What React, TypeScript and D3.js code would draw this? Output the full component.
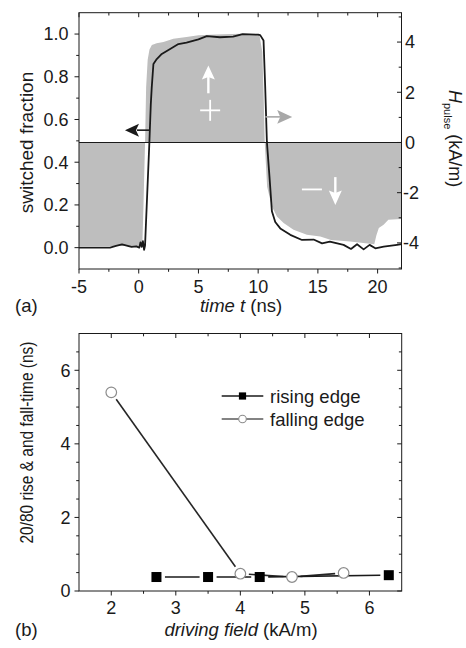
import React from "react";
import * as d3 from "d3";

const W = 466;
const H = 648;
const FONT = "'Liberation Sans', Arial, Helvetica, sans-serif";

// ---------- Panel (a): switched fraction and pulse field vs time ----------
const tFraction = [
  -5, -2.4, -1.9, -1.4, -1.0, -0.6, -0.2, 0.05, 0.15, 0.25, 0.35, 0.45, 0.53,
  0.89, 1.01, 1.09, 1.23, 1.51, 1.93, 2.63, 3.32, 4.0, 5.0, 5.7, 6.8, 7.9, 8.7,
  10.0, 10.17, 10.45, 10.59, 10.73, 10.95, 11.15, 11.43, 11.85, 12.69, 13.67,
  14.64, 15.35, 16.0, 17.15, 17.77, 18.28, 18.83, 19.33, 19.81, 20.51, 21.63, 22,
];
const fraction = [
  0.0, 0.0, 0.008, 0.015, 0.01, 0.004, 0.006, 0.0, 0.025, 0.004, 0.03, -0.01, 0.01,
  0.49, 0.67, 0.75, 0.86, 0.883, 0.907, 0.93, 0.953, 0.96, 0.975, 0.99, 0.985, 0.988, 1.0,
  0.997, 0.995, 0.97, 0.75, 0.495, 0.33, 0.17, 0.12, 0.09, 0.06, 0.036,
  0.038, 0.02, 0.028, 0.013, -0.006, 0.016, -0.008, 0.013, -0.003, 0.005, 0.013, 0.016,
];

const tPulse = [
  -5, 0.3, 0.4, 0.53, 0.62, 0.75, 0.9, 1.1, 1.5, 2.07, 2.9, 4.0, 5.0, 6.5, 8.5,
  10.1, 10.35, 10.45, 10.55, 10.75, 11.15, 11.57, 12.13, 12.96, 14.08, 15.2, 16.1,
  17.7, 18.8, 19.72, 19.9, 20.1, 20.5, 20.9, 21.6, 22,
];
const hPulse = [
  -4.12, -4.12, -2.5, 0, 2.2, 3.3, 3.7, 3.88, 3.95, 4.0, 4.13, 4.2, 4.27, 4.3, 4.33,
  4.3, 3.6, 2.0, 0, -1.76, -2.55, -2.95, -3.21, -3.48, -3.68, -3.75, -3.88,
  -3.94, -4.0, -4.05, -3.7, -3.41, -3.28, -3.08, -3.06, -3.05,
];

const timeTicks = [-5, 0, 5, 10, 15, 20];
const timeMinor = [-2.5, 2.5, 7.5, 12.5, 17.5];
const fracTicks = [0, 0.2, 0.4, 0.6, 0.8, 1.0];
const fracMinor = [0.1, 0.3, 0.5, 0.7, 0.9];
const fieldTicks = [-4, -2, 0, 2, 4];
const fieldMinor = [-5, -3, -1, 1, 3, 5];

// ---------- Panel (b): 20/80 rise and fall times vs driving field ----------
const risingField = [2.7, 3.5, 4.3, 6.3];
const risingTime = [0.38, 0.38, 0.38, 0.43];
const fallingField = [2.0, 4.0, 4.8, 5.6];
const fallingTime = [5.4, 0.47, 0.38, 0.49];

const driveTicks = [2, 3, 4, 5, 6];
const driveMinor = [2.5, 3.5, 4.5, 5.5];
const durTicks = [0, 2, 4, 6];
const durMinor = [0.5, 1, 1.5, 2.5, 3, 3.5, 4.5, 5, 5.5, 6.5];

// ---------- geometry ----------
const PA = { left: 79, right: 401.5, top: 12.7, bottom: 269 };
const PB = { left: 79, right: 401.7, top: 333.5, bottom: 591 };

const xA = d3.scaleLinear().domain([-5, 22]).range([PA.left, PA.right]);
const yA = d3.scaleLinear().domain([-0.1, 1.1]).range([PA.bottom, PA.top]);
const yH = d3.scaleLinear().domain([-5.04, 5.17]).range([PA.bottom, PA.top]);

const xB = d3.scaleLinear().domain([1.5, 6.5]).range([PB.left, PB.right]);
const yB = d3.scaleLinear().domain([0, 7]).range([PB.bottom, PB.top]);

// annotation anchors (data units)
const leftArrow = { f: 0.55, tip: -1.15, tail: 0.9 };
const rightArrow = { h: 1.02, tail: 10.6, tip: 12.85 };
const upArrow = { t: 5.83, tail: 1.96, tip: 3.07 };
const downArrow = { t: 16.46, tail: -1.38, tip: -2.49 };
const plusMark = { t: 5.98, h: 1.28 };
const minusMark = { t: 14.5, h: -1.87 };

const MAJOR = 4.5;
const MINOR = 2.8;

function shortenedSegments(xs: number[], ys: number[], gap: number) {
  const out: number[][] = [];
  for (let i = 0; i < xs.length - 1; i++) {
    const x1 = xs[i], y1 = ys[i], x2 = xs[i + 1], y2 = ys[i + 1];
    const dx = x2 - x1, dy = y2 - y1;
    const len = Math.hypot(dx, dy);
    if (len <= 2 * gap) continue;
    const ux = dx / len, uy = dy / len;
    out.push([x1 + ux * gap, y1 + uy * gap, x2 - ux * gap, y2 - uy * gap]);
  }
  return out;
}

function hArrowHead(tipX: number, y: number, dir: number, len: number, half: number, notch: number) {
  // dir = -1 points left, +1 points right
  const b = tipX - dir * len;
  const n = tipX - dir * (len - notch);
  return `M${tipX},${y}L${b},${y - half}L${n},${y}L${b},${y + half}Z`;
}

function vArrowHead(x: number, tipY: number, dir: number, len: number, half: number, notch: number) {
  // dir = -1 points up, +1 points down
  const b = tipY - dir * len;
  const n = tipY - dir * (len - notch);
  return `M${x},${tipY}L${x - half},${b}L${x},${n}L${x + half},${b}Z`;
}

export default function App() {
  const fracLine = d3
    .line<number>()
    .x((_, i) => xA(tFraction[i]))
    .y((d) => yA(d))(fraction) as string;

  const pulseArea = d3
    .area<number>()
    .x((_, i) => xA(tPulse[i]))
    .y0(() => yH(0))
    .y1((d) => yH(d))(hPulse) as string;

  const rsx = risingField.map((v) => xB(v));
  const rsy = risingTime.map((v) => yB(v));
  const fsx = fallingField.map((v) => xB(v));
  const fsy = fallingTime.map((v) => yB(v));
  const risingSegs = shortenedSegments(rsx, rsy, 8.5);
  const fallingSegs = shortenedSegments(fsx, fsy, 8.5);

  const ink = "#1a1a1a";
  const gray = "#bebebe";

  // arrows in panel a
  const la = { y: yA(leftArrow.f), tip: xA(leftArrow.tip), tail: xA(leftArrow.tail) };
  const ra = { y: yH(rightArrow.h), tip: xA(rightArrow.tip), tail: xA(rightArrow.tail) };
  const ua = { x: xA(upArrow.t), tip: yH(upArrow.tip), tail: yH(upArrow.tail) };
  const da = { x: xA(downArrow.t), tip: yH(downArrow.tip), tail: yH(downArrow.tail) };
  const pm = { x: xA(plusMark.t), y: yH(plusMark.h) };
  const mm = { x: xA(minusMark.t), y: yH(minusMark.h) };

  return (
    <svg
      width={W}
      height={H}
      viewBox={`0 0 ${W} ${H}`}
      style={{ position: "absolute", left: 0, top: 0, display: "block", background: "#fff" }}
      fontFamily={FONT}
    >
      <defs>
        <clipPath id="clipA">
          <rect x={PA.left} y={PA.top} width={PA.right - PA.left} height={PA.bottom - PA.top} />
        </clipPath>
        <clipPath id="clipB">
          <rect x={PB.left} y={PB.top} width={PB.right - PB.left} height={PB.bottom - PB.top} />
        </clipPath>
      </defs>

      {/* ================= Panel (a) ================= */}
      <g clipPath="url(#clipA)">
        <path d={pulseArea} fill={gray} stroke="none" />
        <line x1={PA.left} x2={PA.right} y1={yH(0)} y2={yH(0)} stroke={ink} strokeWidth={1.2} />
        <path d={fracLine} fill="none" stroke={ink} strokeWidth={1.8} strokeLinejoin="round" />
      </g>

      {/* black arrow -> left axis */}
      <line x1={la.tail} x2={la.tip + 12} y1={la.y} y2={la.y} stroke={ink} strokeWidth={1.6} />
      <path d={hArrowHead(la.tip, la.y, -1, 14, 6.5, 3)} fill={ink} />
      {/* gray arrow -> right axis */}
      <line x1={ra.tail} x2={ra.tip - 12} y1={ra.y} y2={ra.y} stroke="#a8a8a8" strokeWidth={1.6} />
      <path d={hArrowHead(ra.tip, ra.y, 1, 15, 6.8, 3)} fill="#a8a8a8" />
      {/* white up arrow and plus */}
      <line x1={ua.x} x2={ua.x} y1={ua.tail} y2={ua.tip + 11} stroke="#fff" strokeWidth={2.4} />
      <path d={vArrowHead(ua.x, ua.tip, -1, 14, 6.5, 2.5)} fill="#fff" />
      <line x1={pm.x - 10} x2={pm.x + 10} y1={pm.y} y2={pm.y} stroke="#fff" strokeWidth={1.8} />
      <line x1={pm.x} x2={pm.x} y1={pm.y - 10.5} y2={pm.y + 10.5} stroke="#fff" strokeWidth={1.8} />
      {/* white down arrow and minus */}
      <line x1={da.x} x2={da.x} y1={da.tail} y2={da.tip - 11} stroke="#fff" strokeWidth={2.4} />
      <path d={vArrowHead(da.x, da.tip, 1, 14.5, 6.5, 2.5)} fill="#fff" />
      <line x1={mm.x - 10} x2={mm.x + 10} y1={mm.y} y2={mm.y} stroke="#fff" strokeWidth={1.8} />

      {/* frame */}
      <rect
        x={PA.left}
        y={PA.top}
        width={PA.right - PA.left}
        height={PA.bottom - PA.top}
        fill="none"
        stroke={ink}
        strokeWidth={1}
      />

      {/* bottom axis (outward) + top mirror (inward) */}
      {timeTicks.concat(timeMinor).map((v, i) => {
        const len = i < timeTicks.length ? MAJOR : MINOR;
        const x = xA(v);
        return (
          <g key={`ta${v}`}>
            <line x1={x} x2={x} y1={PA.bottom} y2={PA.bottom + len} stroke={ink} />
            <line x1={x} x2={x} y1={PA.top} y2={PA.top + len} stroke={ink} />
          </g>
        );
      })}
      {timeTicks.map((v) => (
        <text key={`tl${v}`} x={xA(v)} y={292.5} fontSize={18} textAnchor="middle" fill={ink}>
          {v}
        </text>
      ))}

      {/* left axis (outward) */}
      {fracTicks.concat(fracMinor).map((v, i) => {
        const len = i < fracTicks.length ? MAJOR : MINOR;
        const y = yA(v);
        return <line key={`fa${v}`} x1={PA.left - len} x2={PA.left} y1={y} y2={y} stroke={ink} />;
      })}
      {fracTicks.map((v) => (
        <text
          key={`fl${v}`}
          x={68.5}
          y={yA(v)}
          dy="0.35em"
          fontSize={18}
          textAnchor="end"
          fill={ink}
        >
          {d3.format(".1f")(v)}
        </text>
      ))}

      {/* right axis (inward) */}
      {fieldTicks.concat(fieldMinor).map((v, i) => {
        const len = i < fieldTicks.length ? MAJOR : MINOR;
        const y = yH(v);
        return <line key={`ha${v}`} x1={PA.right - len} x2={PA.right} y1={y} y2={y} stroke={ink} />;
      })}
      {fieldTicks.map((v) => (
        <text key={`hl${v}`} x={v < 0 ? 403 : 405} y={yH(v)} dy="0.35em" fontSize={18} fill={ink}>
          {v}
        </text>
      ))}

      {/* axis titles */}
      <text
        transform={`translate(33,142.5) rotate(-90)`}
        fontSize={19}
        textAnchor="middle"
        fill={ink}
      >
        switched fraction
      </text>
      <text transform={`translate(449,90) rotate(90)`} fontSize={18} fill={ink}>
        <tspan fontStyle="italic">H</tspan>
        <tspan fontSize={11} dy={5}>
          pulse
        </tspan>
        <tspan dy={-5}> (kA/m)</tspan>
      </text>
      <text x={241} y={312} fontSize={18.5} textAnchor="middle" fill={ink}>
        <tspan fontStyle="italic">time t</tspan>
        <tspan> (ns)</tspan>
      </text>
      <text x={15} y={312} fontSize={18.5} fill={ink}>
        (a)
      </text>

      {/* ================= Panel (b) ================= */}
      <g clipPath="url(#clipB)">
        {fallingSegs.map((s, i) => (
          <line key={`fs${i}`} x1={s[0]} y1={s[1]} x2={s[2]} y2={s[3]} stroke="#262626" strokeWidth={1.6} />
        ))}
        {risingSegs.map((s, i) => (
          <line key={`rs${i}`} x1={s[0]} y1={s[1]} x2={s[2]} y2={s[3]} stroke={ink} strokeWidth={1.6} />
        ))}
        {rsx.map((x, i) => (
          <rect key={`rm${i}`} x={x - 5} y={rsy[i] - 5} width={10} height={10} fill="#000" />
        ))}
        {fsx.map((x, i) => (
          <circle key={`fm${i}`} cx={x} cy={fsy[i]} r={5.3} fill="#fff" stroke="#8c8c8c" strokeWidth={1.2} />
        ))}
      </g>

      <rect
        x={PB.left}
        y={PB.top}
        width={PB.right - PB.left}
        height={PB.bottom - PB.top}
        fill="none"
        stroke={ink}
        strokeWidth={1}
      />

      {/* bottom axis (outward) + top mirror (inward) */}
      {driveTicks.concat(driveMinor).map((v, i) => {
        const len = i < driveTicks.length ? MAJOR : MINOR;
        const x = xB(v);
        return (
          <g key={`da${v}`}>
            <line x1={x} x2={x} y1={PB.bottom} y2={PB.bottom + len} stroke={ink} />
            <line x1={x} x2={x} y1={PB.top} y2={PB.top + len} stroke={ink} />
          </g>
        );
      })}
      {driveTicks.map((v) => (
        <text key={`dl${v}`} x={xB(v)} y={614} fontSize={18} textAnchor="middle" fill={ink}>
          {v}
        </text>
      ))}

      {/* left axis (outward) + right mirror (inward) */}
      {durTicks.concat(durMinor).map((v, i) => {
        const len = i < durTicks.length ? MAJOR : MINOR;
        const y = yB(v);
        return (
          <g key={`ya${v}`}>
            <line x1={PB.left - len} x2={PB.left} y1={y} y2={y} stroke={ink} />
            <line x1={PB.right - len} x2={PB.right} y1={y} y2={y} stroke={ink} />
          </g>
        );
      })}
      {durTicks.map((v) => (
        <text key={`yl${v}`} x={70.5} y={yB(v)} dy="0.35em" fontSize={18} textAnchor="end" fill={ink}>
          {v}
        </text>
      ))}

      {/* legend */}
      <line x1={221.7} x2={263.3} y1={396} y2={396} stroke={ink} strokeWidth={1.6} />
      <rect x={242.5 - 3.6} y={396 - 3.6} width={7.2} height={7.2} fill="#000" />
      <text x={270} y={402.5} fontSize={18.5} fill={ink}>
        rising edge
      </text>
      <line x1={221.7} x2={263.3} y1={419} y2={419} stroke="#5a5a5a" strokeWidth={1.6} />
      <circle cx={242.5} cy={419} r={3.8} fill="#fff" stroke="#8c8c8c" strokeWidth={1.1} />
      <text x={270} y={425.5} fontSize={18.5} fill={ink}>
        falling edge
      </text>

      {/* axis titles */}
      <text
        transform={`translate(33,442.5) rotate(-90)`}
        fontSize={17.5}
        textAnchor="middle"
        textLength={202}
        lengthAdjust="spacingAndGlyphs"
        fill={ink}
      >
        20/80 rise &amp; and fall-time (ns)
      </text>
      <text x={241} y={635.5} fontSize={18.5} textAnchor="middle" fill={ink}>
        <tspan fontStyle="italic">driving field</tspan>
        <tspan> (kA/m)</tspan>
      </text>
      <text x={15} y={636} fontSize={18.5} fill={ink}>
        (b)
      </text>
    </svg>
  );
}
